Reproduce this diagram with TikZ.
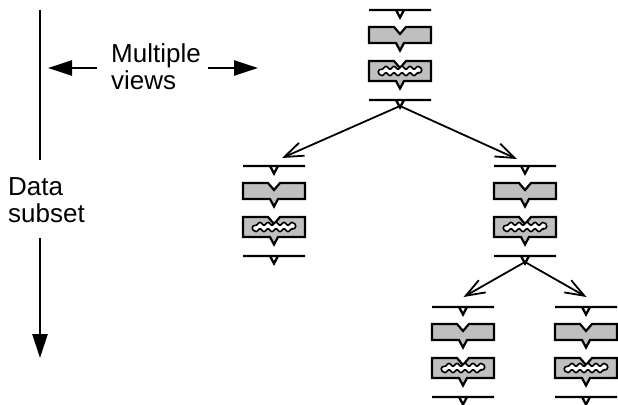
\documentclass[tikz,border=0pt]{standalone}
\usepackage{fontspec}
\setmainfont{Liberation Sans}
\usetikzlibrary{arrows.meta}
\definecolor{boxgray}{RGB}{191,191,191}
\begin{document}
\begin{tikzpicture}[x=1pt,y=-1pt,
  stackline/.style={line width=2.3pt},
  boxshape/.style={line width=2.2pt, fill=boxgray, line join=miter},
  blob/.style={line width=1.6pt, fill=white},
  branch/.style={line width=1.8pt, -{Straight Barb[length=19pt,width=14pt]}},
  bigarrow/.style={line width=2.5pt, -{Triangle[length=24pt,width=15pt]}},
  plainline/.style={line width=2.5pt},
  lbl/.style={font=\fontsize{26}{27}\selectfont, align=left, inner sep=0pt},
  datastack/.pic={
    \draw[stackline] (-31,0) -- (31,0) (-4,0) -- (0,7.5) -- (4,0);
    \filldraw[boxshape] (-31,17) -- (-6,17) -- (0,24) -- (6,17) -- (31,17) -- (31,33) -- (4,33) -- (0,40.5) -- (-4,33) -- (-31,33) -- cycle;
    \filldraw[boxshape] (-31,51) -- (-6,51) -- (0,58) -- (6,51) -- (31,51) -- (31,71) -- (4,71) -- (0,78.5) -- (-4,71) -- (-31,71) -- cycle;
    \filldraw[blob] plot[domain=-18:18,samples=37,smooth] (\x,{57.8-1.4*sin(45*\x)})
       .. controls (23,57.2) and (23,63.2) .. (18,63.2)
       -- plot[domain=18:-18,samples=37,smooth] (\x,{64.2-1.4*sin(45*\x)})
       .. controls (-23,64.8) and (-23,58.8) .. cycle;
    \draw[stackline] (-31,90) -- (31,90) (-4,90) -- (0,97.5) -- (4,90);
    \coordinate (-out) at (0,96);
  }
]
\useasboundingbox (0,0) rectangle (618,404);

\pic (A) at (400,10) {datastack};
\pic (B) at (274,166) {datastack};
\pic (C) at (525,166) {datastack};
\pic (D) at (463,307) {datastack};
\pic (E) at (586,307) {datastack};

\coordinate (tB) at (282,158);
\coordinate (tC) at (517,159);
\coordinate (tD) at (463.5,297);
\coordinate (tE) at (586.5,297);
\draw[branch] (A-out) -- (tB);
\draw[branch] (A-out) -- (tC);
\draw[branch] (C-out) -- (tD);
\draw[branch] (C-out) -- (tE);

\node[lbl, anchor=base west] (ds) at (8,222) {Data\\subset};
\node[lbl, anchor=base west] (mv) at (111,89) {Multiple\\views};

\coordinate (vtop) at (40,10);
\coordinate (vmid1) at (40,160);
\coordinate (vmid2) at (40,238);
\coordinate (vbot) at (40,358);
\draw[plainline] (vtop) -- (vmid1);
\draw[bigarrow] (vmid2) -- (vbot);

\coordinate (hl1) at (97,68);
\coordinate (hl2) at (48,68);
\coordinate (hr1) at (208,68);
\coordinate (hr2) at (258,68);
\draw[bigarrow] (hl1) -- (hl2);
\draw[bigarrow] (hr1) -- (hr2);
\end{tikzpicture}
\end{document}
